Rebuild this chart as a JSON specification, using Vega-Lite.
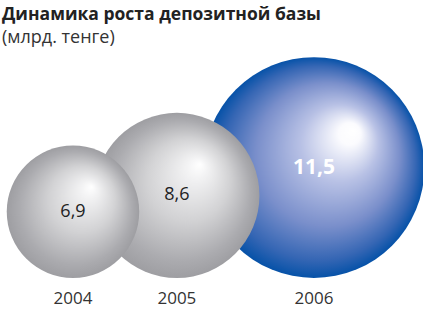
{
  "$schema": "https://vega.github.io/schema/vega-lite/v6.json",
  "width": 423,
  "height": 190,
  "autosize": {"type": "none"},
  "padding": {"left": 0, "top": 88, "right": 0, "bottom": 36},
  "background": "white",
  "config": {
    "view": {"stroke": null},
    "locale": {"number": {"decimal": ",", "thousands": " ", "grouping": [3], "currency": ["", ""]}}
  },
  "title": {
    "text": "Динамика роста депозитной базы",
    "subtitle": "(млрд. тенге)",
    "anchor": "start",
    "frame": "group",
    "orient": "top",
    "offset": 10,
    "dx": 2,
    "font": "Open Sans",
    "fontSize": 17.5,
    "fontWeight": "bold",
    "color": "#222222",
    "subtitleFont": "Open Sans",
    "subtitleFontSize": 18,
    "subtitleColor": "#333333",
    "subtitlePadding": 6
  },
  "data": {
    "values": [
      {"year": "2006", "value": 11.5},
      {"year": "2005", "value": 8.6},
      {"year": "2004", "value": 6.9}
    ]
  },
  "encoding": {
    "x": {
      "field": "value",
      "type": "quantitative",
      "scale": {"type": "log", "domain": [5.911, 14.49], "nice": false, "zero": false},
      "axis": null
    }
  },
  "layer": [
    {
      "transform": [{"filter": "datum.year == '2006'"}],
      "mark": {
        "type": "point",
        "shape": "circle",
        "filled": true,
        "opacity": 1,
        "strokeWidth": 0,
        "color": {
          "gradient": "radial",
          "x1": 0.68, "y1": 0.33, "r1": 0,
          "x2": 0.5, "y2": 0.5, "r2": 0.5,
          "stops": [
            {"offset": 0, "color": "#ffffff"},
            {"offset": 0.1, "color": "#fbfbfe"},
            {"offset": 0.35, "color": "#b8c1e5"},
            {"offset": 0.65, "color": "#7a8fcb"},
            {"offset": 0.88, "color": "#3566b4"},
            {"offset": 1, "color": "#0652a8"}
          ]
        }
      },
      "encoding": {
        "y": {"field": "value", "type": "quantitative", "scale": {"domain": [0, 19.79], "nice": false, "zero": true}, "axis": null},
        "size": {"field": "value", "type": "quantitative", "scale": {"type": "pow", "exponent": 2, "domain": [0, 11.5], "range": [0, 48752]}, "legend": null}
      }
    },
    {
      "transform": [{"filter": "datum.year != '2006'"}],
      "mark": {
        "type": "point",
        "shape": "circle",
        "filled": true,
        "opacity": 1,
        "strokeWidth": 0,
        "color": {
          "gradient": "radial",
          "x1": 0.64, "y1": 0.31, "r1": 0,
          "x2": 0.5, "y2": 0.5, "r2": 0.5,
          "stops": [
            {"offset": 0, "color": "#ffffff"},
            {"offset": 0.12, "color": "#f3f3f4"},
            {"offset": 0.5, "color": "#d2d2d4"},
            {"offset": 0.85, "color": "#ababaf"},
            {"offset": 1, "color": "#9e9ea2"}
          ]
        }
      },
      "encoding": {
        "y": {"field": "value", "type": "quantitative", "scale": {"domain": [0, 19.79], "nice": false, "zero": true}, "axis": null},
        "size": {"field": "value", "type": "quantitative", "scale": {"type": "pow", "exponent": 2, "domain": [0, 11.5], "range": [0, 48752]}, "legend": null}
      }
    },
    {
      "transform": [{"filter": "datum.year != '2006'"}],
      "mark": {"type": "text", "font": "Open Sans", "fontSize": 18, "color": "#222222", "baseline": "middle", "align": "center"},
      "encoding": {
        "y": {"field": "value", "type": "quantitative"},
        "text": {"field": "value", "type": "quantitative", "format": ".1f"}
      }
    },
    {
      "transform": [{"filter": "datum.year == '2006'"}],
      "mark": {"type": "text", "font": "Open Sans", "fontSize": 21, "fontWeight": "bold", "color": "#ffffff", "baseline": "middle", "align": "center"},
      "encoding": {
        "y": {"field": "value", "type": "quantitative"},
        "text": {"field": "value", "type": "quantitative", "format": ".1f"}
      }
    },
    {
      "mark": {"type": "text", "font": "Open Sans", "fontSize": 17, "color": "#333333", "baseline": "top", "align": "center", "dy": 13},
      "encoding": {
        "y": {"datum": 0, "type": "quantitative"},
        "text": {"field": "year", "type": "nominal"}
      }
    }
  ]
}
